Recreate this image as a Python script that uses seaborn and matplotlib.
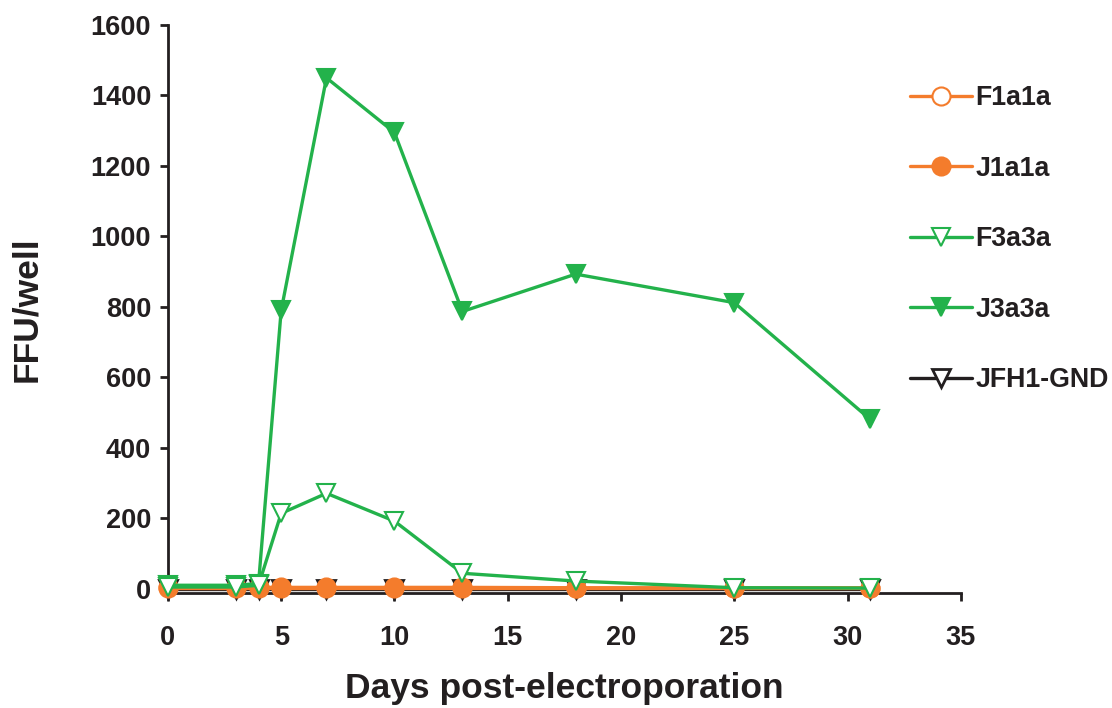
import matplotlib
matplotlib.use("Agg")
import matplotlib.pyplot as plt
import seaborn as sns
import pandas as pd

days = [0, 3, 4, 5, 7, 10, 13, 18, 25, 31]
f1a1a = [2, 2, 2, 2, 2, 2, 2, 2, 2, 2]
j1a1a = [4, 4, 4, 4, 4, 4, 4, 3, 3, 3]
f3a3a = [5, 5, 10, 214, 271, 192, 44, 22, 3, 2]
j3a3a = [10, 10, 15, 790, 1450, 1295, 787, 893, 812, 481]
jfh1_gnd = [0, 0, 0, 0, 0, 0, 0, 0, 0, 0]

series_names = ["F1a1a", "J1a1a", "F3a3a", "J3a3a", "JFH1-GND"]
x_ticks = [0, 5, 10, 15, 20, 25, 30, 35]
y_ticks = [0, 200, 400, 600, 800, 1000, 1200, 1400, 1600]

sns.set_style("ticks")
plt.rcParams["font.family"] = ["Liberation Sans", "DejaVu Sans"]
plt.rcParams["font.weight"] = "bold"

ORANGE = "#F47C2C"
GREEN = "#23B24B"
BLACK = "#231F20"

styles = {
    "JFH1-GND": dict(color=BLACK, marker="v", mfc="white", mec=BLACK, ms=12.5, mew=2),
    "J1a1a": dict(color=ORANGE, marker="o", mfc=ORANGE, mec=ORANGE, ms=13, mew=1.5),
    "F1a1a": dict(color=ORANGE, marker="o", mfc="white", mec=ORANGE, ms=13, mew=1.5),
    "J3a3a": dict(color=GREEN, marker="v", mfc=GREEN, mec=GREEN, ms=12.5, mew=1.5),
    "F3a3a": dict(color=GREEN, marker="v", mfc="white", mec=GREEN, ms=12.5, mew=1.5),
}
values = {"F1a1a": f1a1a, "J1a1a": j1a1a, "F3a3a": f3a3a, "J3a3a": j3a3a, "JFH1-GND": jfh1_gnd}

fig = plt.figure(figsize=(11.12, 7.08), dpi=100)
ax = fig.add_axes([0.151, 0.1624, 0.713, 0.8023])

draw_order = ["JFH1-GND", "F1a1a", "J1a1a", "J3a3a", "F3a3a"]
for z, name in enumerate(draw_order):
    st = styles[name]
    df = pd.DataFrame({"day": days, "ffu": values[name]})
    sns.lineplot(data=df, x="day", y="ffu", ax=ax, label=name, color=st["color"],
                 marker=st["marker"], markerfacecolor=st["mfc"], markeredgecolor=st["mec"],
                 markersize=st["ms"], markeredgewidth=st["mew"], linewidth=2.4,
                 clip_on=False, zorder=3 + z, sort=False, estimator=None)

ax.set_xlim(0, 35)
ax.set_ylim(-12, 1600)
ax.set_xticks(x_ticks)
ax.set_yticks(y_ticks)
sns.despine(ax=ax)
for sp in ["left", "bottom"]:
    ax.spines[sp].set_linewidth(2)
    ax.spines[sp].set_color(BLACK)
ax.tick_params(axis="both", direction="out", length=6, width=2, color=BLACK,
               labelsize=19.5, labelcolor=BLACK)
ax.tick_params(axis="x", pad=17)
ax.tick_params(axis="y", pad=6)
for lab in ax.get_xticklabels() + ax.get_yticklabels():
    lab.set_fontweight("bold")

ax.set_xlabel("Days post-electroporation", fontsize=25.5, fontweight="bold", color=BLACK, labelpad=15)
ax.set_ylabel("FFU/well", fontsize=25.5, fontweight="bold", color=BLACK, labelpad=34)

handles, labels = ax.get_legend_handles_labels()
hmap = dict(zip(labels, handles))
leg = ax.legend([hmap[n] for n in series_names], series_names,
                loc="upper left", bbox_to_anchor=(0.809, 0.895), bbox_transform=fig.transFigure,
                frameon=False, fontsize=19.3, handlelength=2.3, handletextpad=0.12,
                labelspacing=1.66, borderaxespad=0)
for t in leg.get_texts():
    t.set_fontweight("bold")
    t.set_color(BLACK)

fig.savefig("out.png", dpi=100)
